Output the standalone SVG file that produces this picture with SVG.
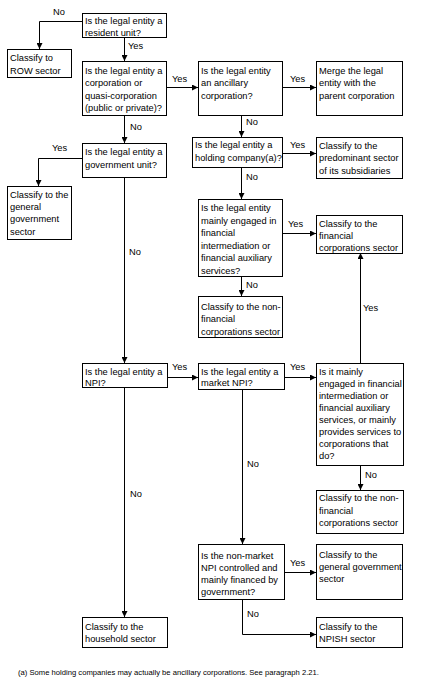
<svg xmlns="http://www.w3.org/2000/svg" width="421" height="699" viewBox="0 0 421 699">
<style>
.b{fill:#fff;stroke:#000;stroke-width:1}
.t{font-family:"Liberation Sans",Arial,sans-serif;font-size:9.3px;fill:#000}
.l{font-family:"Liberation Sans",Arial,sans-serif;font-size:9.3px;fill:#000}
.c{fill:none;stroke:#000;stroke-width:1}
.f{font-family:"Liberation Sans",Arial,sans-serif;font-size:6.3px;fill:#000}
</style>
<defs>
<marker id="a" viewBox="0 0 6 6" refX="6" refY="3" markerWidth="6" markerHeight="6" markerUnits="userSpaceOnUse" orient="auto">
<path d="M0,0 L6,3 L0,6 Z" fill="#000"/>
</marker>
</defs>
<rect width="421" height="699" fill="#fff"/>
<g id="connectors">
<path class="c" d="M82.5,21.5 H39.5 V49" marker-end="url(#a)"/>
<path class="c" d="M124.5,37 V61" marker-end="url(#a)"/>
<path class="c" d="M166,87.5 H198" marker-end="url(#a)"/>
<path class="c" d="M282,87.5 H316" marker-end="url(#a)"/>
<path class="c" d="M241.5,115 V137" marker-end="url(#a)"/>
<path class="c" d="M282,153.5 H316" marker-end="url(#a)"/>
<path class="c" d="M241.5,167 V199" marker-end="url(#a)"/>
<path class="c" d="M282,233.5 H316" marker-end="url(#a)"/>
<path class="c" d="M241.5,276 V296" marker-end="url(#a)"/>
<path class="c" d="M124.5,115 V143" marker-end="url(#a)"/>
<path class="c" d="M82,158.5 H38.5 V186" marker-end="url(#a)"/>
<path class="c" d="M124.5,177 V363" marker-end="url(#a)"/>
<path class="c" d="M167,377.5 H198" marker-end="url(#a)"/>
<path class="c" d="M284,377.5 H316" marker-end="url(#a)"/>
<path class="c" d="M360.5,363 V253" marker-end="url(#a)"/>
<path class="c" d="M360.5,465 V490" marker-end="url(#a)"/>
<path class="c" d="M242.5,390 V544" marker-end="url(#a)"/>
<path class="c" d="M284,572.5 H316" marker-end="url(#a)"/>
<path class="c" d="M242.5,599 V634.5 H316" marker-end="url(#a)"/>
<path class="c" d="M124.5,385 V617" marker-end="url(#a)"/>
<text class="l" x="53" y="15">No</text>
<text class="l" x="128" y="49">Yes</text>
<text class="l" x="172" y="82">Yes</text>
<text class="l" x="290" y="82">Yes</text>
<text class="l" x="246" y="125">No</text>
<text class="l" x="290" y="148">Yes</text>
<text class="l" x="246" y="180">No</text>
<text class="l" x="288" y="227">Yes</text>
<text class="l" x="246" y="288">No</text>
<text class="l" x="130" y="130">No</text>
<text class="l" x="52" y="151">Yes</text>
<text class="l" x="129" y="255">No</text>
<text class="l" x="172" y="370">Yes</text>
<text class="l" x="290" y="370">Yes</text>
<text class="l" x="363" y="311">Yes</text>
<text class="l" x="365" y="478">No</text>
<text class="l" x="247" y="467">No</text>
<text class="l" x="290" y="566">Yes</text>
<text class="l" x="247" y="617">No</text>
<text class="l" x="130" y="497">No</text>
</g>
<g id="n1"><rect class="b" x="82.5" y="13.5" width="84" height="24"/><text class="t" x="85" y="24"><tspan x="85">Is the legal entity a</tspan><tspan x="85" dy="12">resident unit?</tspan></text></g>
<g id="n2"><rect class="b" x="7.5" y="49.5" width="64" height="28"/><text class="t" x="10" y="61"><tspan x="10">Classify to</tspan><tspan x="10" dy="12.5">ROW sector</tspan></text></g>
<g id="n3"><rect class="b" x="82.5" y="61.5" width="84" height="54"/><text class="t" x="85" y="73.5"><tspan x="85">Is the legal entity a</tspan><tspan x="85" dy="12.6">corporation or</tspan><tspan x="85" dy="12.6">quasi-corporation</tspan><tspan x="85" dy="12.6">(public or private)?</tspan></text></g>
<g id="n4"><rect class="b" x="198.5" y="61.5" width="84" height="54"/><text class="t" x="201" y="73.5"><tspan x="201">Is the legal entity</tspan><tspan x="201" dy="12.6">an ancillary</tspan><tspan x="201" dy="12.6">corporation?</tspan></text></g>
<g id="n5"><rect class="b" x="316.5" y="61.5" width="86" height="54"/><text class="t" x="319" y="73.5"><tspan x="319">Merge the legal</tspan><tspan x="319" dy="12.6">entity with the</tspan><tspan x="319" dy="12.6">parent corporation</tspan></text></g>
<g id="n6"><rect class="b" x="192.5" y="137.5" width="90" height="30"/><text class="t" x="195" y="148"><tspan x="195">Is the legal entity a</tspan><tspan x="195" dy="12.6">holding company(a)?</tspan></text></g>
<g id="n7"><rect class="b" x="316.5" y="137.5" width="86" height="41"/><text class="t" x="319" y="148.5"><tspan x="319">Classify to the</tspan><tspan x="319" dy="12.6">predominant sector</tspan><tspan x="319" dy="12.6">of its subsidiaries</tspan></text></g>
<g id="n8"><rect class="b" x="82.5" y="143.5" width="84" height="34"/><text class="t" x="85" y="155"><tspan x="85">Is the legal entity a</tspan><tspan x="85" dy="12.6">government unit?</tspan></text></g>
<g id="n9"><rect class="b" x="7.5" y="186.5" width="64" height="53"/><text class="t" x="10" y="197.5"><tspan x="10">Classify to the</tspan><tspan x="10" dy="12.4">general</tspan><tspan x="10" dy="12.4">government</tspan><tspan x="10" dy="12.4">sector</tspan></text></g>
<g id="n10"><rect class="b" x="198.5" y="199.5" width="84" height="77"/><text class="t" x="201" y="211"><tspan x="201">Is the legal entity</tspan><tspan x="201" dy="12.5">mainly engaged in</tspan><tspan x="201" dy="12.5">financial</tspan><tspan x="201" dy="12.5">intermediation or</tspan><tspan x="201" dy="12.5">financial auxiliary</tspan><tspan x="201" dy="12.5">services?</tspan></text></g>
<g id="n11"><rect class="b" x="316.5" y="215.5" width="86" height="38"/><text class="t" x="319" y="226.5"><tspan x="319">Classify to the</tspan><tspan x="319" dy="12">financial</tspan><tspan x="319" dy="12">corporations sector</tspan></text></g>
<g id="n12"><rect class="b" x="198.5" y="296.5" width="84" height="41"/><text class="t" x="201" y="310"><tspan x="201">Classify to the non-</tspan><tspan x="201" dy="12.3">financial</tspan><tspan x="201" dy="12.3">corporations sector</tspan></text></g>
<g id="n13"><rect class="b" x="82.5" y="363.5" width="85" height="24"/><text class="t" x="85" y="374.5"><tspan x="85">Is the legal entity a</tspan><tspan x="85" dy="11.5">NPI?</tspan></text></g>
<g id="n14"><rect class="b" x="198.5" y="363.5" width="86" height="26"/><text class="t" x="201" y="374.5"><tspan x="201">Is the legal entity a</tspan><tspan x="201" dy="11.5">market NPI?</tspan></text></g>
<g id="n15"><rect class="b" x="316.5" y="363.5" width="87" height="102"/><text class="t" x="319" y="375"><tspan x="319">Is it mainly</tspan><tspan x="319" dy="12">engaged in financial</tspan><tspan x="319" dy="12">intermediation or</tspan><tspan x="319" dy="12">financial auxiliary</tspan><tspan x="319" dy="12">services, or mainly</tspan><tspan x="319" dy="12">provides services to</tspan><tspan x="319" dy="12">corporations that</tspan><tspan x="319" dy="12">do?</tspan></text></g>
<g id="n16"><rect class="b" x="316.5" y="490.5" width="87" height="43"/><text class="t" x="319" y="501"><tspan x="319">Classify to the non-</tspan><tspan x="319" dy="12.6">financial</tspan><tspan x="319" dy="12.6">corporations sector</tspan></text></g>
<g id="n17"><rect class="b" x="198.5" y="544.5" width="86" height="55"/><text class="t" x="201" y="558.5"><tspan x="201">Is the non-market</tspan><tspan x="201" dy="12">NPI controlled and</tspan><tspan x="201" dy="12">mainly financed by</tspan><tspan x="201" dy="12">government?</tspan></text></g>
<g id="n18"><rect class="b" x="316.5" y="544.5" width="86" height="55"/><text class="t" x="319" y="557.5"><tspan x="319">Classify to the</tspan><tspan x="319" dy="12">general government</tspan><tspan x="319" dy="12">sector</tspan></text></g>
<g id="n19"><rect class="b" x="82.5" y="617.5" width="85" height="30"/><text class="t" x="85" y="630"><tspan x="85">Classify to the</tspan><tspan x="85" dy="12">household sector</tspan></text></g>
<g id="n20"><rect class="b" x="316.5" y="617.5" width="86" height="30"/><text class="t" x="319" y="630"><tspan x="319">Classify to the</tspan><tspan x="319" dy="12">NPISH sector</tspan></text></g>
<text class="f" x="18" y="675" textLength="301" lengthAdjust="spacingAndGlyphs">(a) Some holding companies may actually be ancillary corporations. See paragraph 2.21.</text>
</svg>
